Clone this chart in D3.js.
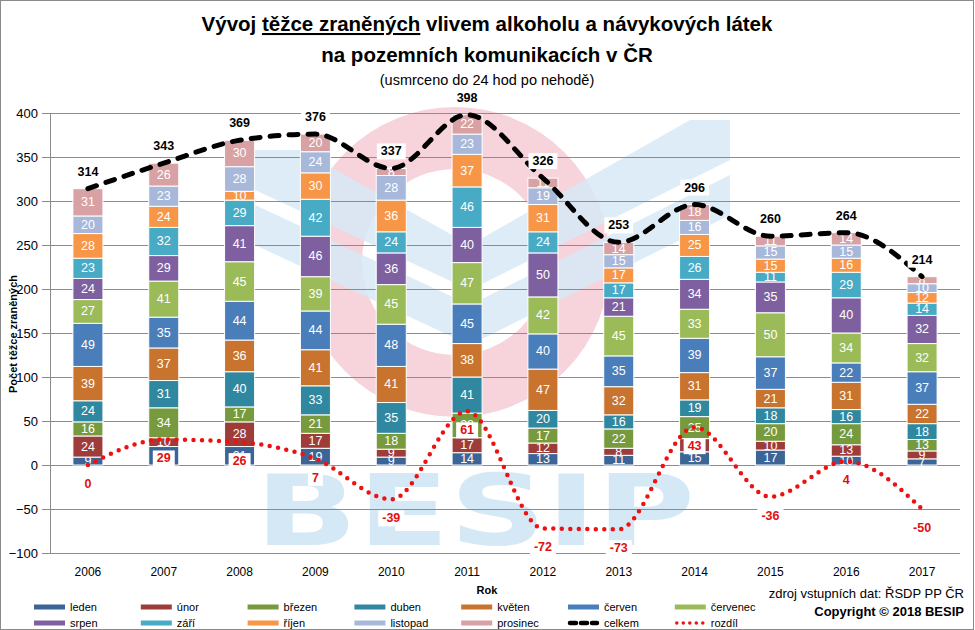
<!DOCTYPE html>
<html>
<head>
<meta charset="utf-8">
<script src="https://cdn.jsdelivr.net/npm/d3@7"></script>
<style>
  body { margin: 0; background: #fff; }
  svg { display: block; font-family: "Liberation Sans", Arial, sans-serif; }
</style>
</head>
<body>
<div class="chart"></div>
<script>
var years = ["2006", "2007", "2008", "2009", "2010", "2011", "2012", "2013", "2014", "2015", "2016", "2017"];
var months = ["leden", "únor", "březen", "duben", "květen", "červen", "červenec", "srpen", "září", "říjen", "listopad", "prosinec"];

var leden    = [9, 21, 21, 19, 9, 14, 13, 11, 15, 17, 10, 7];
var unor     = [24, 10, 28, 17, 9, 17, 12, 8, 15, 10, 13, 9];
var brezen   = [16, 34, 17, 21, 18, 28, 17, 22, 25, 20, 24, 13];
var duben    = [24, 31, 40, 33, 35, 41, 20, 16, 19, 18, 16, 18];
var kveten   = [39, 37, 36, 41, 41, 38, 47, 32, 31, 21, 31, 22];
var cerven   = [49, 35, 44, 44, 48, 45, 40, 35, 39, 37, 22, 37];
var cervenec = [27, 41, 45, 39, 45, 47, 42, 45, 33, 50, 34, 32];
var srpen    = [24, 29, 41, 46, 36, 40, 50, 21, 34, 35, 40, 32];
var zari     = [23, 32, 29, 42, 24, 46, 24, 17, 26, 11, 29, 14];
var rijen    = [28, 24, 10, 30, 36, 37, 31, 17, 25, 15, 16, 12];
var listopad = [20, 23, 28, 24, 28, 23, 19, 15, 16, 15, 15, 10];
var prosinec = [31, 26, 30, 20, 8, 22, 11, 14, 18, 11, 14, 8];

var celkem = [314, 343, 369, 376, 337, 398, 326, 253, 296, 260, 264, 214];
var rozdil = [0, 29, 26, 7, -39, 61, -72, -73, 43, -36, 4, -50];

var yTicks = [-100, -50, 0, 50, 100, 150, 200, 250, 300, 350, 400];

var monthSeries = [leden, unor, brezen, duben, kveten, cerven, cervenec, srpen, zari, rijen, listopad, prosinec];
var colourPalette = ["#3b6597", "#9e3c3a", "#789a3e", "#2f88a0", "#c8742f", "#4a7ebb",
                     "#9bbb59", "#7e60a0", "#47abc6", "#f79646", "#a7b8da", "#d8a1a3"];

var width = 975, height = 630;

// table for d3.stack
var table = years.map(function (yr, i) {
    var row = { year: yr };
    months.forEach(function (m, j) { row[m] = monthSeries[j][i]; });
    return row;
});

var svg = d3.select('.chart')
    .append('svg')
    .attr('width', width)
    .attr('height', height);

var x = d3.scaleBand()
    .domain(years)
    .range([50, 960])
    .paddingInner(0.604)
    .paddingOuter(0.302);

var y = d3.scaleLinear()
    .domain([-100, 400])
    .range([553, 113]);

var cx = function (yr) { return x(yr) + x.bandwidth() / 2; };

// border
svg.append('rect')
    .attr('x', 0.5).attr('y', 0.5)
    .attr('width', width - 2).attr('height', height - 1)
    .attr('fill', 'none')
    .attr('stroke', '#8a8a8a');

// BESIP watermark
var wm = svg.append('g').attr('class', 'watermark');
wm.append('circle')
    .attr('cx', 455).attr('cy', 262).attr('r', 124)
    .attr('fill', 'none')
    .attr('stroke', '#f7d3dc')
    .attr('stroke-width', 62);
wm.append('path')
    .attr('d', 'M255,150 L300,150 L470,245 L470,290 L255,190 Z')
    .attr('fill', '#d7e9f6').attr('opacity', 0.85);
wm.append('path')
    .attr('d', 'M255,205 L470,305 L470,345 L255,245 Z')
    .attr('fill', '#d7e9f6').attr('opacity', 0.85);
wm.append('path')
    .attr('d', 'M470,245 L690,120 L730,120 L730,160 L470,290 Z')
    .attr('fill', '#d7e9f6').attr('opacity', 0.85);
wm.append('path')
    .attr('d', 'M470,305 L730,175 L730,215 L470,345 Z')
    .attr('fill', '#d7e9f6').attr('opacity', 0.85);
wm.append('text')
    .attr('x', 255).attr('y', 545)
    .attr('textLength', 440)
    .attr('lengthAdjust', 'spacingAndGlyphs')
    .style('font-family', '"DejaVu Sans", sans-serif')
    .style('font-weight', 'bold')
    .style('font-size', '98px')
    .attr('fill', '#d5e8f5')
    .text('BESIP');

// gridlines
svg.append('g')
    .attr('transform', 'translate(50,0)')
    .call(d3.axisLeft(y).tickValues(yTicks).tickSize(-910).tickFormat(''))
    .call(function (g) {
        g.select('.domain').remove();
        g.selectAll('line').attr('stroke', '#8c8c8c');
    });

// y axis
svg.append('g')
    .attr('transform', 'translate(50,0)')
    .call(d3.axisLeft(y).tickValues(yTicks).tickSize(8).tickPadding(4))
    .call(function (g) {
        g.select('.domain').attr('stroke', '#8c8c8c');
        g.selectAll('line').attr('stroke', '#8c8c8c');
        g.selectAll('text').style('font-size', '13px').attr('fill', '#000');
    });

svg.append('text')
    .attr('transform', 'translate(14,334) rotate(-90)')
    .attr('text-anchor', 'middle')
    .attr('dominant-baseline', 'middle')
    .style('font-size', '11px')
    .style('font-weight', 'bold')
    .text('Počet těžce zraněných');

// x axis labels
svg.append('g')
    .attr('transform', 'translate(0,553)')
    .call(d3.axisBottom(x).tickSize(0).tickPadding(14))
    .call(function (g) {
        g.select('.domain').remove();
        g.selectAll('text').style('font-size', '12px').attr('fill', '#000');
    });

svg.append('text')
    .attr('x', 487).attr('y', 594)
    .attr('text-anchor', 'middle')
    .style('font-size', '11px')
    .style('font-weight', 'bold')
    .text('Rok');

// stacked bars
var stacked = d3.stack().keys(months)(table);

var layers = svg.selectAll('g.layer')
    .data(stacked)
    .enter()
    .append('g')
    .attr('class', 'layer')
    .attr('fill', function (d, i) { return colourPalette[i]; });

layers.selectAll('rect')
    .data(function (d) { return d; })
    .enter()
    .append('rect')
    .attr('x', function (d) { return x(d.data.year); })
    .attr('y', function (d) { return y(d[1]); })
    .attr('width', x.bandwidth())
    .attr('height', function (d) { return y(d[0]) - y(d[1]); })
    .attr('stroke', '#fff')
    .attr('stroke-width', 1);

layers.selectAll('text')
    .data(function (d) { return d; })
    .enter()
    .append('text')
    .attr('x', function (d) { return cx(d.data.year); })
    .attr('y', function (d) { return y((d[0] + d[1]) / 2); })
    .attr('text-anchor', 'middle')
    .attr('dominant-baseline', 'central')
    .attr('fill', '#fff')
    .style('font-size', '12.5px')
    .text(function (d) { return d[1] - d[0]; });

// lines (smoothed like the spreadsheet)
var line = d3.line()
    .x(function (d, i) { return cx(years[i]); })
    .y(function (d) { return y(d); })
    .curve(d3.curveMonotoneX);

svg.append('path')
    .attr('d', line(celkem))
    .attr('fill', 'none')
    .attr('stroke', '#000')
    .attr('stroke-width', 5)
    .attr('stroke-linecap', 'round')
    .attr('stroke-dasharray', '9 10');

svg.append('path')
    .attr('d', line(rozdil))
    .attr('fill', 'none')
    .attr('stroke', '#ee1111')
    .attr('stroke-width', 4.5)
    .attr('stroke-linecap', 'round')
    .attr('stroke-dasharray', '0 8.5');

// boxed value labels
function boxLabels(values, dy, colour, cls) {
    var g = svg.selectAll('g.' + cls)
        .data(values)
        .enter()
        .append('g')
        .attr('class', cls)
        .attr('transform', function (d, i) {
            return 'translate(' + cx(years[i]) + ',' + (y(d) + dy) + ')';
        });
    g.append('text')
        .attr('text-anchor', 'middle')
        .attr('dominant-baseline', 'central')
        .attr('fill', colour)
        .style('font-size', '12.5px')
        .style('font-weight', 'bold')
        .text(function (d) { return d; });
    g.insert('rect', 'text')
        .each(function () {
            var bb = this.nextSibling.getBBox();
            d3.select(this)
                .attr('x', bb.x - 4).attr('y', bb.y - 1)
                .attr('width', bb.width + 8).attr('height', bb.height + 2);
        })
        .attr('fill', '#fff');
}
boxLabels(celkem, -17, '#000', 'lab-celkem');
boxLabels(rozdil, 19, '#e01010', 'lab-rozdil');

// titles
var titleFont = '"Liberation Sans Narrow", "Arial Narrow", "Liberation Sans", sans-serif';
var title = svg.append('text')
    .attr('x', 487).attr('y', 31)
    .attr('text-anchor', 'middle')
    .style('font-family', titleFont)
    .style('font-size', '20.5px')
    .style('font-weight', 'bold');
title.append('tspan').text('Vývoj ');
title.append('tspan').style('text-decoration', 'underline').text('těžce zraněných');
title.append('tspan').text(' vlivem alkoholu a návykových látek');

svg.append('text')
    .attr('x', 487).attr('y', 62)
    .attr('text-anchor', 'middle')
    .style('font-family', titleFont)
    .style('font-size', '20.5px')
    .style('font-weight', 'bold')
    .text('na pozemních komunikacích v ČR');

svg.append('text')
    .attr('x', 487).attr('y', 85)
    .attr('text-anchor', 'middle')
    .style('font-size', '14.5px')
    .text('(usmrceno do 24 hod po nehodě)');

// source + copyright
svg.append('text')
    .attr('x', 964).attr('y', 598)
    .attr('text-anchor', 'end')
    .style('font-size', '13px')
    .text('zdroj vstupních dat: ŘSDP PP ČR');
svg.append('text')
    .attr('x', 964).attr('y', 616)
    .attr('text-anchor', 'end')
    .style('font-size', '13px')
    .style('font-weight', 'bold')
    .text('Copyright © 2018 BESIP');

// legend
var legendItems = months.map(function (m, i) { return { name: m, type: 'bar', colour: colourPalette[i] }; });
legendItems.push({ name: 'celkem', type: 'celkem' });
legendItems.push({ name: 'rozdíl', type: 'rozdil' });

var legend = svg.selectAll('g.legend')
    .data(legendItems)
    .enter()
    .append('g')
    .attr('class', 'legend')
    .attr('transform', function (d, i) {
        var col = i < 7 ? i : i - 7;
        var row = i < 7 ? 0 : 1;
        return 'translate(' + (34 + col * 106.8) + ',' + (607 + row * 16) + ')';
    });

legend.each(function (d) {
    var g = d3.select(this);
    if (d.type === 'bar') {
        g.append('rect').attr('x', 0).attr('y', -2.5).attr('width', 31).attr('height', 5).attr('fill', d.colour);
    } else if (d.type === 'celkem') {
        g.append('line').attr('x1', 2).attr('x2', 29).attr('y1', 0).attr('y2', 0)
            .attr('stroke', '#000').attr('stroke-width', 4.5)
            .attr('stroke-linecap', 'round').attr('stroke-dasharray', '6 5');
    } else {
        g.append('line').attr('x1', 2).attr('x2', 31).attr('y1', 0).attr('y2', 0)
            .attr('stroke', '#ee1111').attr('stroke-width', 3.5)
            .attr('stroke-linecap', 'round').attr('stroke-dasharray', '0 6.5');
    }
    g.append('text')
        .attr('x', 36).attr('y', 0)
        .attr('dominant-baseline', 'central')
        .style('font-size', '11px')
        .text(d.name);
});
</script>
</body>
</html>
